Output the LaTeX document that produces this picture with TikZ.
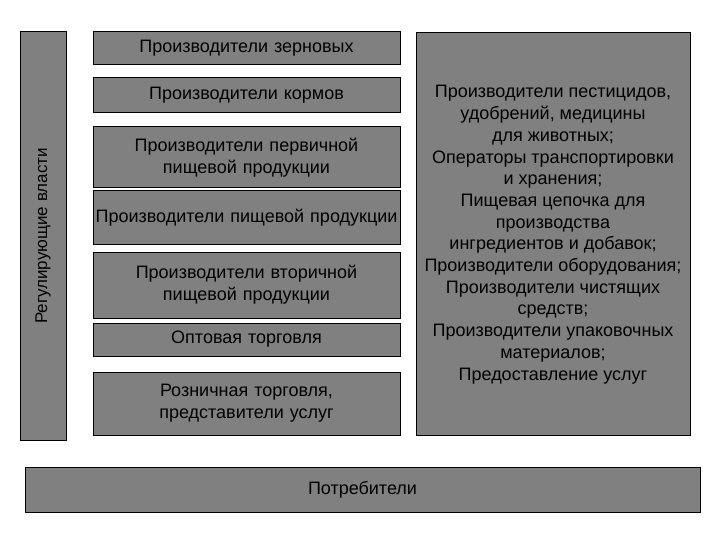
\documentclass[tikz,border=0pt]{standalone}
\usepackage{fontspec}
\setmainfont{Liberation Sans}
\begin{document}
\begin{tikzpicture}[x=1pt,y=-1pt,
  gbox/.style={draw=black,fill=black!50,line width=1pt,align=center,inner sep=1pt,font=\fontsize{18}{22}\selectfont}]
\useasboundingbox[fill=white] (0,0) rectangle (720,540);
\newcommand{\bx}[6]{\node[gbox,minimum width=#3-#1,minimum height=#4-#2,text width=#3-#1-4] (#5) at ({(#1+#3)/2},{(#2+#4)/2}) {#6};}
\node[gbox,minimum width=408,minimum height=46,rotate=90,font=\fontsize{17}{20}\selectfont] (reg) at (43,236) {Регулирующие власти};
\bx{93}{32}{400}{65}{b1}{Производители зерновых}
\bx{93}{78}{400}{113}{b2}{Производители кормов}
\bx{93}{127}{400}{188}{b3}{Производители первичной\\пищевой продукции}
\bx{93}{191}{400}{244}{b4}{Производители пищевой продукции}
\bx{93}{252}{400}{318}{b5}{Производители вторичной\\пищевой продукции}
\bx{93}{323}{400}{356}{b6}{Оптовая торговля}
\bx{93}{372}{400}{435}{b7}{Розничная торговля,\\представители услуг}
\node[gbox,minimum width=274,minimum height=403,anchor=north] (r) at (553,32) {};
\node[align=center,font=\fontsize{18}{21.7}\selectfont,anchor=north] (rt) at (553,82) {Производители пестицидов,\\удобрений, медицины\\для животных;\\Операторы транспортировки\\и хранения;\\Пищевая цепочка для\\производства\\ингредиентов и добавок;\\Производители оборудования;\\Производители чистящих\\средств;\\Производители упаковочных\\материалов;\\Предоставление услуг};
\node[gbox,minimum width=675,minimum height=45] (c) at (362.5,490) {Потребители};
\end{tikzpicture}
\end{document}
